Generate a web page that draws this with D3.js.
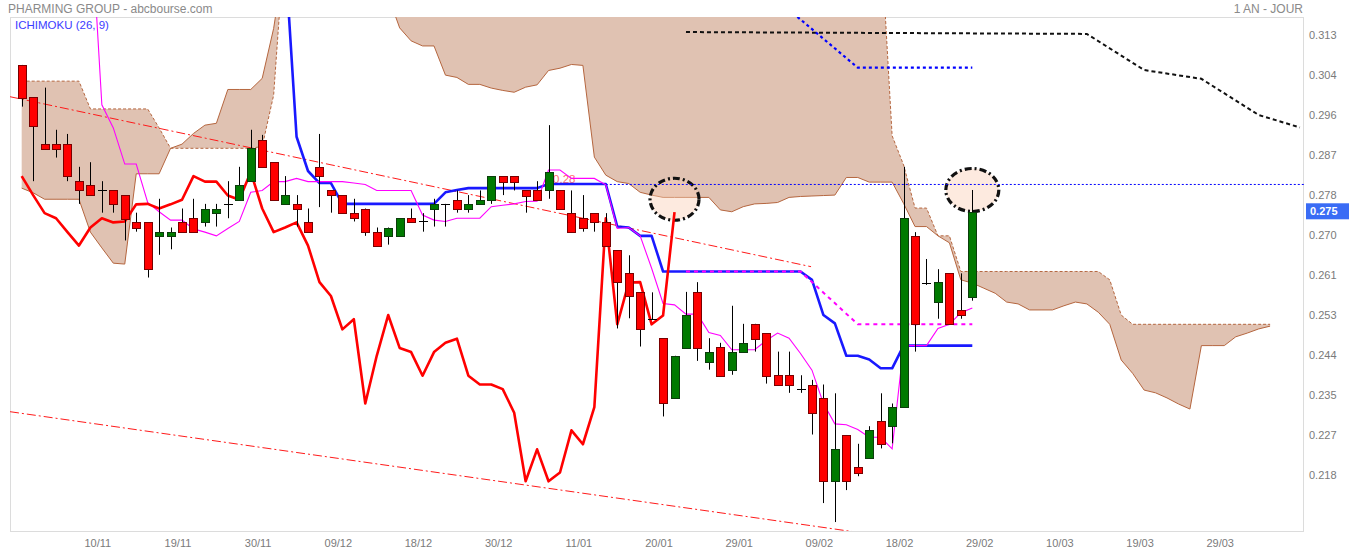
<!DOCTYPE html>
<html><head><meta charset="utf-8">
<script src="https://cdn.jsdelivr.net/npm/d3@7"></script>
<style>
body{margin:0;background:#fff;}
svg{display:block;font-family:"Liberation Sans",Arial,sans-serif;}
</style></head><body>
<svg id="chart" width="1349" height="552"></svg>
<script>
// ---------- DATA ----------
const opens = [0.3066,0.2996,0.2895,0.2895,0.2895,0.2815,0.2806,0.2795,0.2795,0.2785,
0.2726,0.2726,0.2696,0.2696,0.2726,0.2735,0.2726,0.2746,0.2766,0.2775,
0.2815,0.2905,0.2856,0.2765,0.2766,0.2726,0.2846,0.2795,0.2785,0.2746,
0.2756,0.2705,0.2696,0.2696,0.2735,0.2728,0.2756,0.2766,0.2775,0.2756,
0.2765,0.2775,0.2826,0.2826,0.2795,0.2795,0.2795,0.2795,0.2746,0.2735,
0.2746,0.2726,0.2666,0.2616,0.2575,0.2517,0.2476,0.2346,0.2455,0.2575,
0.2425,0.2456,0.2407,0.2446,0.2507,0.2487,0.2396,0.2396,0.2366,0.2376,
0.2347,0.2167,0.2267,0.2197,0.2217,0.2297,0.2286,0.2327,0.2697,0.2596,
0.2555,0.2616,0.2537,0.2566];
const highs = [0.3066,0.2996,0.3017,0.2926,0.2917,0.2846,0.2856,0.2815,0.2795,0.2785,
0.2747,0.2726,0.2777,0.2715,0.2756,0.2777,0.2766,0.2766,0.2815,0.2846,
0.2926,0.2915,0.2856,0.2826,0.2785,0.2756,0.2917,0.2795,0.2785,0.2777,
0.2756,0.2715,0.2715,0.2735,0.2756,0.2746,0.2777,0.2766,0.2795,0.2785,
0.2795,0.2826,0.2826,0.2826,0.2795,0.2815,0.2936,0.2795,0.2795,0.2785,
0.2746,0.2746,0.2666,0.2655,0.2575,0.2575,0.2476,0.2438,0.2576,0.2597,
0.2476,0.2466,0.2546,0.2507,0.2507,0.2487,0.2447,0.2447,0.2396,0.2386,
0.2376,0.2357,0.2267,0.2248,0.2286,0.2357,0.2335,0.2846,0.2705,0.2647,
0.2625,0.2616,0.2616,0.2796];
const lows = [0.2976,0.2815,0.2885,0.2866,0.2815,0.2766,0.2783,0.2747,0.2747,0.2687,
0.2706,0.2607,0.2656,0.2668,0.2705,0.2705,0.2717,0.2717,0.2735,0.2775,
0.2815,0.2846,0.2775,0.2765,0.2717,0.2705,0.2759,0.2747,0.2746,0.2728,
0.2697,0.2676,0.2678,0.2696,0.2726,0.2706,0.2717,0.2717,0.2747,0.2747,
0.2765,0.2766,0.2785,0.2795,0.2747,0.2775,0.2777,0.2756,0.2705,0.2706,
0.2706,0.2676,0.2497,0.2519,0.2458,0.2517,0.2307,0.2346,0.2455,0.2427,
0.2408,0.2395,0.2397,0.2446,0.2447,0.2378,0.2376,0.2358,0.2358,0.2268,
0.2120,0.2079,0.2148,0.2178,0.2217,0.2238,0.2249,0.2327,0.2447,0.2591,
0.2518,0.2506,0.2518,0.2557];
const closes = [0.2995,0.2935,0.2885,0.2885,0.2826,0.2795,0.2785,0.2795,0.2765,0.2734,
0.2715,0.2625,0.2705,0.2705,0.2705,0.2705,0.2756,0.2756,0.2766,0.2806,
0.2886,0.2846,0.2775,0.2785,0.2756,0.2705,0.2826,0.2785,0.2746,0.2735,
0.2705,0.2676,0.2715,0.2735,0.2726,0.2728,0.2765,0.2766,0.2756,0.2765,
0.2775,0.2826,0.2814,0.2814,0.2784,0.2775,0.2835,0.2756,0.2705,0.2715,
0.2726,0.2676,0.2597,0.2567,0.2495,0.2517,0.2335,0.2438,0.2526,0.2455,
0.2446,0.2395,0.2446,0.2466,0.2475,0.2395,0.2376,0.2376,0.2366,0.2315,
0.2167,0.2236,0.2167,0.2186,0.2277,0.2247,0.2327,0.2735,0.2506,0.2596,
0.2597,0.2506,0.2525,0.2748];

// Tenkan (9) and Kijun (26)
const tenkan = [null,null,null,null,null,null,0.340,0.2980,0.2930,0.2852,
0.2852,0.2769,0.2749,0.2731,0.2731,0.2712,0.2705,0.2697,0.2713,0.2728,
0.2791,0.2795,0.2814,0.2814,0.2821,0.2814,0.2814,0.2814,0.2814,0.2811,
0.2808,0.2795,0.2795,0.2795,0.2795,0.2742,0.2731,0.2728,0.2735,0.2735,
0.2735,0.2760,0.2763,0.2766,0.2771,0.2772,0.2839,0.2839,0.2821,0.2821,
0.2821,0.2807,0.2713,0.2715,0.2697,0.2627,0.2551,0.2548,0.2528,0.2528,
0.2488,0.2482,0.2451,0.2451,0.2451,0.2471,0.2487,0.2476,0.2443,0.2407,
0.2335,0.2291,0.2289,0.2279,0.2262,0.2262,0.2237,0.2460,0.2460,0.2460,
0.2497,0.2506,0.2531,0.2541];
const kijun = [null,null,null,null,null,null,null,null,null,null,
null,null,null,null,null,null,null,null,null,null,
null,null,null,0.3303,0.2911,0.2837,0.2811,0.2811,0.2766,0.2766,
0.2766,0.2766,0.2766,0.2766,0.2766,0.2766,0.2766,0.2791,0.2796,0.2800,
0.2800,0.2800,0.2800,0.2800,0.2800,0.2800,0.2809,0.2809,0.2809,0.2809,
0.2809,0.2809,0.2717,0.2715,0.2697,0.2697,0.2620,0.2620,0.2620,0.2620,
0.2620,0.2620,0.2620,0.2620,0.2620,0.2620,0.2620,0.2620,0.2620,0.2602,
0.2526,0.2508,0.2438,0.2438,0.2430,0.2411,0.2411,0.2460,0.2460,0.2460,
0.2460,0.2460,0.2460,0.2460];

// Senkou spans (already shifted 26 forward: 110 slots)
const senkouA = [0.2800,0.2790,0.2776,0.2776,0.2776,0.2776,0.2705,0.2671,0.2638,0.2636,
0.2831,0.2831,0.2831,0.2886,0.2895,0.2918,0.2936,0.2940,0.3013,0.3013,
0.3013,0.3037,0.3145,0.3306,0.3306,0.3306,0.3306,0.3306,0.3306,0.3306,
0.3306,0.3306,0.3215,0.3146,0.3118,0.3107,0.3107,0.3044,0.3039,0.3024,
0.3024,0.3016,0.3011,0.3007,0.3018,0.3023,0.3054,0.3059,0.3067,0.3065,
0.2867,0.2828,0.2814,0.2810,0.2791,0.2785,0.2780,0.2780,0.2780,0.2780,
0.2780,0.2753,0.2749,0.2760,0.2766,0.2767,0.2769,0.2780,0.2782,0.2783,
0.2784,0.2785,0.2823,0.2823,0.2813,0.2813,0.2813,0.2767,0.2717,0.2717,
0.2697,0.2682,0.2602,0.2595,0.2584,0.2573,0.2554,0.2550,0.2537,0.2537,
0.2537,0.2546,0.2554,0.2550,0.2532,0.2506,0.2429,0.2400,0.2364,0.2358,
0.2347,0.2334,0.2323,0.2460,0.2460,0.2460,0.2479,0.2487,0.2496,0.2502];
const senkouB = [0.3031,0.3031,0.3031,0.3031,0.3031,0.3031,0.2971,0.2971,0.2971,0.2971,
0.2971,0.2971,0.2930,0.2886,0.2886,0.2886,0.2886,0.2886,0.2886,0.2886,
0.2886,0.2890,0.3001,0.3350,0.3350,0.3350,0.3350,0.3350,0.3350,0.3350,
0.3350,0.3350,0.3350,0.3350,0.3350,0.3350,0.3350,0.3350,0.3350,0.3350,
0.3350,0.3350,0.3350,0.3350,0.3350,0.3350,0.3350,0.3350,0.3350,0.3350,
0.3350,0.3350,0.3350,0.3350,0.3350,0.3350,0.3350,0.3350,0.3350,0.3350,
0.3350,0.3350,0.3350,0.3350,0.3350,0.3350,0.3350,0.3350,0.3350,0.3350,
0.3350,0.3350,0.3350,0.3350,0.3350,0.3350,0.2913,0.2850,0.2757,0.2757,
0.2697,0.2697,0.2620,0.2620,0.2620,0.2620,0.2620,0.2620,0.2620,0.2620,
0.2620,0.2620,0.2620,0.2620,0.2620,0.2602,0.2526,0.2506,0.2506,0.2506,
0.2506,0.2506,0.2506,0.2506,0.2506,0.2506,0.2506,0.2506,0.2506,0.2506];

// projections [index, value]
const projBlack = [[58,0.3137],[93,0.3133],[98,0.3055],[103,0.3036],[108,0.2958],[111.6,0.2931]];
const projBlue = [[58,0.3185],[67,0.3185],[73,0.3060],[83,0.3060]];
const projMagenta = [[58,0.2620],[68,0.2620],[73,0.2506],[83,0.2506]];
// trend lines [index, value]
const trendUpper = [[-1.02,0.29974],[68.92,0.26304]];
const trendLower = [[-1.02,0.23173],[72.61,0.20582]];
// horizontal level and annotations
const levelValue = 0.2809, levelStart = 51, levelText = "0.28";
const circles = [[57,0.2776],[83,0.2796]];
const lastPrice = 0.275, lastLabel = "0.275";

const xTickLabels = ["10/11","19/11","30/11","09/12","18/12","30/12","11/01","20/01","29/01","09/02","18/02","29/02","10/03","19/03","29/03"];
const yTickValues = [0.21800,0.22664,0.23527,0.24391,0.25255,0.26118,0.26982,0.27845,0.28709,0.29573,0.30436,0.31300];
const yTickLabels = ["0.218","0.227","0.235","0.244","0.253","0.261","0.270","0.278","0.287","0.296","0.304","0.313"];

// ---------- LAYOUT ----------
const L=10,R=1304,T=17,B=531;
const x=d3.scaleLinear().domain([-1.02,111.96]).range([L,R]);
const y=d3.scaleLinear().domain([0.20597,0.31695]).range([B,T]);
const svg=d3.select("#chart");

svg.append("text").attr("x",8).attr("y",13).attr("font-size",12).attr("fill","#8a8a8a").text("PHARMING GROUP - abcbourse.com");
svg.append("text").attr("x",1303).attr("y",13).attr("font-size",12).attr("fill","#8a8a8a").attr("text-anchor","end").text("1 AN - JOUR");

svg.append("defs").append("clipPath").attr("id","clip").append("rect")
  .attr("x",L).attr("y",T).attr("width",R-L).attr("height",B-T);
svg.append("rect").attr("x",L+0.5).attr("y",T+0.5).attr("width",R-L-1).attr("height",B-T)
  .attr("fill","none").attr("stroke","#dcdcdc");

const g=svg.append("g").attr("clip-path","url(#clip)");

// cloud
const idx=d3.range(senkouA.length);
g.append("path").datum(idx)
  .attr("d",d3.area().x(i=>x(i)).y0(i=>y(senkouA[i])).y1(i=>y(senkouB[i])))
  .attr("fill","#e0c2b2");
g.append("path").datum(idx).attr("d",d3.line().x(i=>x(i)).y(i=>y(senkouA[i])))
  .attr("fill","none").attr("stroke","#b5663f").attr("stroke-width",1);
g.append("path").datum(idx).attr("d",d3.line().x(i=>x(i)).y(i=>y(senkouB[i])))
  .attr("fill","none").attr("stroke","#b5663f").attr("stroke-width",1).attr("stroke-dasharray","3,2");

// circles
const rad=[[24.5,21],[26.5,21.5]];
circles.forEach((c,k)=>{
  g.append("ellipse").attr("cx",x(c[0])).attr("cy",y(c[1])).attr("rx",rad[k][0]).attr("ry",rad[k][1])
   .attr("fill","#fbd0b8").attr("fill-opacity",0.45).attr("stroke","#111").attr("stroke-width",3.2)
   .attr("stroke-dasharray","7,3,2,3");
});

// trend lines
const pl=d3.line().x(d=>x(d[0])).y(d=>y(d[1]));
[trendUpper,trendLower].forEach(t=>{
  g.append("path").datum(t).attr("d",pl).attr("fill","none").attr("stroke","#ff1a1a")
   .attr("stroke-width",1).attr("stroke-dasharray","9,3,2,3");
});

// horizontal level
g.append("line").attr("x1",x(levelStart)).attr("x2",R).attr("y1",y(levelValue)+0.5).attr("y2",y(levelValue)+0.5)
  .attr("stroke","#0000ff").attr("stroke-width",1).attr("stroke-dasharray","2,2");
g.append("text").attr("x",x(46.4)).attr("y",y(levelValue)-1).attr("font-size",11.5)
  .attr("fill","#ff6f6f").text(levelText);

// projections
g.append("path").datum(projBlack).attr("d",pl).attr("fill","none").attr("stroke","#111")
  .attr("stroke-width",2).attr("stroke-dasharray","4,3");
g.append("path").datum(projBlue).attr("d",pl).attr("fill","none").attr("stroke","#0000ff")
  .attr("stroke-width",2.2).attr("stroke-dasharray","3,3");

// kijun, tenkan
const li=arr=>d3.line().defined(i=>arr[i]!=null).x(i=>x(i)).y(i=>y(arr[i]));
const cidx=d3.range(closes.length);
g.append("path").datum(cidx).attr("d",li(kijun)).attr("fill","none").attr("stroke","#0000ff")
  .attr("stroke-width",2.6).attr("stroke-opacity",0.9).attr("stroke-linejoin","round");
g.append("path").datum(projMagenta).attr("d",pl).attr("fill","none").attr("stroke","#ff00ff")
  .attr("stroke-width",2).attr("stroke-dasharray","4,4");
g.append("path").datum(cidx).attr("d",li(tenkan)).attr("fill","none").attr("stroke","#ff00ff")
  .attr("stroke-width",1.1);

// chikou = close shifted back 26
const chikou=closes.slice(26);
g.append("path").datum(d3.range(chikou.length)).attr("d",d3.line().x(i=>x(i)).y(i=>y(chikou[i])))
  .attr("fill","none").attr("stroke","#ff0000").attr("stroke-width",2.6).attr("stroke-linejoin","round");

// candles
const cg=g.append("g");
cidx.forEach(i=>{
  const cx=Math.round(x(i));
  cg.append("line").attr("x1",cx+0.5).attr("x2",cx+0.5).attr("y1",y(highs[i])).attr("y2",y(lows[i]))
    .attr("stroke","#000").attr("stroke-width",1);
  const o=opens[i],c=closes[i];
  if(Math.abs(o-c)<0.00006){
    const yy=Math.round(y(o))+0.5;
    cg.append("line").attr("x1",cx-4).attr("x2",cx+5).attr("y1",yy).attr("y2",yy).attr("stroke","#000");
  } else {
    const up=c>o;
    const y0=Math.round(y(Math.max(o,c)))+0.5, y1=Math.round(y(Math.min(o,c)))+0.5;
    cg.append("rect").attr("x",cx-3.5).attr("y",y0).attr("width",8).attr("height",Math.max(1,y1-y0))
      .attr("fill",up?"#007a00":"#ff0000").attr("stroke",up?"#0b3d0b":"#7a0000").attr("stroke-width",1);
  }
});

// axes
const ax=svg.append("g").attr("transform",`translate(${R},0)`)
  .call(d3.axisRight(y).tickValues(yTickValues).tickFormat((d,k)=>yTickLabels[k]).tickSize(0).tickPadding(5));
ax.select(".domain").remove();
ax.selectAll("text").attr("font-size",11).attr("fill","#7a7a7a").attr("font-family","Liberation Sans, Arial, sans-serif");

const xtv=xTickLabels.map((d,k)=>6.6+7*k);
const bx=svg.append("g").attr("transform",`translate(0,${B})`)
  .call(d3.axisBottom(x).tickValues(xtv).tickFormat((d,k)=>xTickLabels[k]).tickSize(0).tickPadding(8));
bx.select(".domain").remove();
bx.selectAll("text").attr("font-size",11).attr("fill","#7a7a7a").attr("font-family","Liberation Sans, Arial, sans-serif");

// last price tag
const ly=y(lastPrice);
svg.append("rect").attr("x",R+2).attr("y",ly-8).attr("width",1349-R-2).attr("height",16).attr("fill","#3a6cf5");
svg.append("text").attr("x",R+6).attr("y",ly+4).attr("font-size",11).attr("font-weight","bold")
  .attr("fill","#fff").text(lastLabel);

// legend
svg.append("text").attr("x",15).attr("y",29).attr("font-size",11.5).attr("fill","#3c3cff").text("ICHIMOKU (26, 9)");
</script>
</body></html>
